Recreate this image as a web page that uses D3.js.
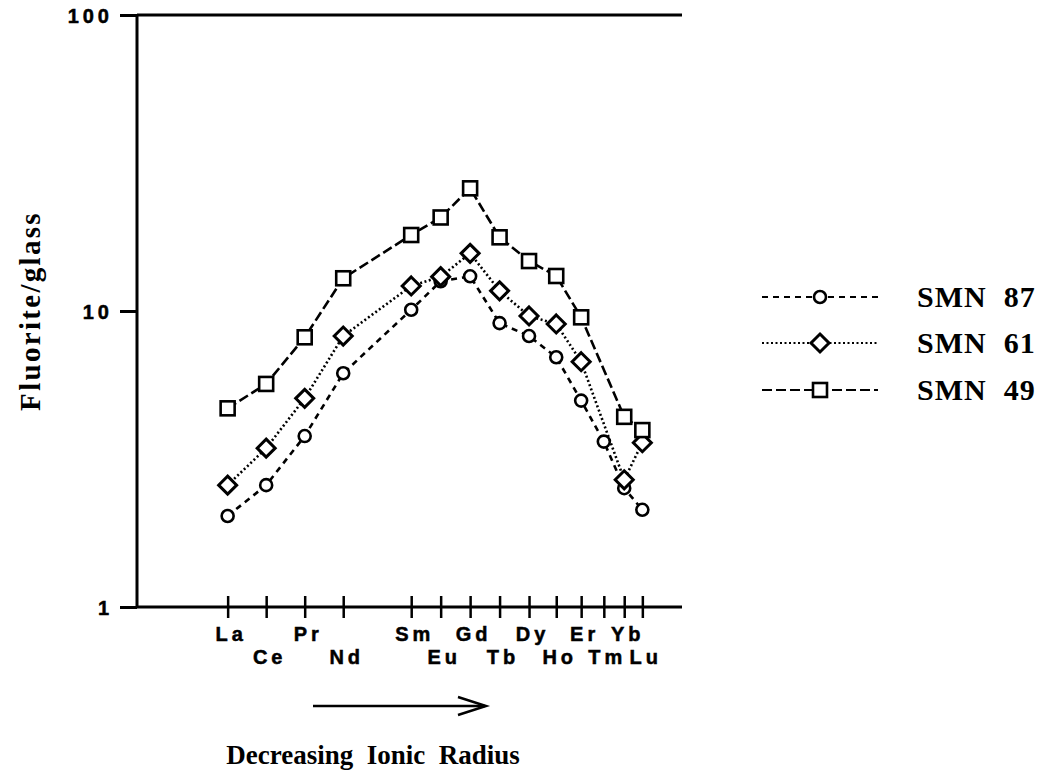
<!DOCTYPE html>
<html>
<head>
<meta charset="utf-8">
<script src="https://cdn.jsdelivr.net/npm/d3@7"></script>
<style>
  html, body { margin: 0; padding: 0; background: #fff; }
  svg { display: block; }
</style>
</head>
<body>
<svg id="chart" width="1048" height="780"></svg>
<script>
// ---- data ----
const elements = ["La","Ce","Pr","Nd","Sm","Eu","Gd","Tb","Dy","Ho","Er","Tm","Yb","Lu"];
// ionic radius (Å) used for x positions
const ionicRadius = [1.160,1.143,1.126,1.109,1.079,1.066,1.053,1.040,1.027,1.015,1.004,0.994,0.985,0.977];
const labelRow = [0,1,0,1,0,1,0,1,0,1,0,1,0,1];
const smn87 = [2.03,2.58,3.78,6.16,10.1,12.6,13.1,9.1,8.23,6.98,4.98,3.62,2.52,2.13];
const smn61 = [2.58,3.44,5.07,8.23,12.15,13.06,15.66,11.7,9.62,9.04,6.74,null,2.69,3.59];
const smn49 = [4.69,5.67,8.15,12.9,18.06,20.7,25.97,17.74,14.75,13.13,9.52,null,4.39,3.96];
const seriesNames = ["SMN  87","SMN  61","SMN  49"];
const yTicks = [1,10,100];
const xTitle = "Decreasing  Ionic  Radius";
const yTitle = "Fluorite/glass";

(function () {
// ---- layout ----
const svg = d3.select("#chart");
const pLeft = 137, pRight = 682, pTop = 15, pBottom = 607;

const x = d3.scaleLinear().domain([1.200, 0.9595]).range([pLeft, pRight]);
const y = d3.scaleLog().domain([1, 100]).range([pBottom, pTop]);

const sansFont = "'Liberation Sans', Arial, sans-serif";
const serifFont = "'Liberation Serif', 'Times New Roman', serif";

// frame: left, top, bottom
const frame = svg.append("g").attr("stroke", "#000").attr("stroke-width", 3).attr("fill", "none");
frame.append("line").attr("x1", pLeft).attr("x2", pLeft).attr("y1", pTop).attr("y2", pBottom);
frame.append("line").attr("x1", pLeft).attr("x2", pRight).attr("y1", pTop).attr("y2", pTop);
frame.append("line").attr("x1", pLeft).attr("x2", pRight).attr("y1", pBottom).attr("y2", pBottom);

// y axis
const yAxis = d3.axisLeft(y).tickValues(yTicks).tickFormat(d3.format("d")).tickSize(17).tickPadding(7);
const gy = svg.append("g").attr("transform", `translate(${pLeft},0)`).call(yAxis);
gy.select(".domain").remove();
gy.selectAll(".tick line").attr("stroke", "#000").attr("stroke-width", 3);
gy.selectAll(".tick text")
  .attr("font-family", sansFont).attr("font-weight", "bold").attr("font-size", 20)
  .attr("letter-spacing", 4).attr("fill", "#000")
  .attr("stroke", "#000").attr("stroke-width", 0.5)
  .attr("dy", "0.36em");

// x axis with crossing ticks
const xAxis = d3.axisBottom(x).tickValues(ionicRadius).tickFormat((d, i) => elements[i]).tickSize(11).tickPadding(0);
const gx = svg.append("g").attr("transform", `translate(0,${pBottom})`).call(xAxis);
gx.select(".domain").remove();
gx.selectAll(".tick line").attr("y1", -11).attr("y2", 11).attr("stroke", "#000").attr("stroke-width", 2.5);
gx.selectAll(".tick text")
  .attr("font-family", sansFont).attr("font-weight", "bold").attr("font-size", 20)
  .attr("letter-spacing", 4).attr("fill", "#000")
  .attr("stroke", "#000").attr("stroke-width", 0.5)
  .attr("dx", 3)
  .attr("dy", null)
  .attr("y", (d, i) => labelRow[i] === 0 ? 34 : 57);

// series
const series = [
  { name: seriesNames[0], values: smn87, dash: "6,5", marker: "circle" },
  { name: seriesNames[1], values: smn61, dash: "2,2.5", marker: "diamond" },
  { name: seriesNames[2], values: smn49, dash: "10,4", marker: "square" }
];

const line = d3.line().x(d => x(d.r)).y(d => y(d.v));

function drawMarker(g, type, cx, cy) {
  if (type === "circle") {
    g.append("circle").attr("cx", cx).attr("cy", cy).attr("r", 6)
      .attr("fill", "#fff").attr("stroke", "#000").attr("stroke-width", 2.6);
  } else if (type === "diamond") {
    const s = 9;
    g.append("path").attr("d", `M${cx},${cy - s}L${cx + s},${cy}L${cx},${cy + s}L${cx - s},${cy}Z`)
      .attr("fill", "#fff").attr("stroke", "#000").attr("stroke-width", 3);
  } else {
    const s = 7;
    g.append("rect").attr("x", cx - s).attr("y", cy - s).attr("width", 2 * s).attr("height", 2 * s)
      .attr("fill", "#fff").attr("stroke", "#000").attr("stroke-width", 2.6);
  }
}

series.forEach(s => {
  const pts = s.values.map((v, i) => ({ r: ionicRadius[i], v })).filter(d => d.v != null);
  const g = svg.append("g");
  g.append("path").datum(pts).attr("d", line)
    .attr("fill", "none").attr("stroke", "#000").attr("stroke-width", 2.6)
    .attr("stroke-dasharray", s.dash);
  pts.forEach(p => drawMarker(g, s.marker, x(p.r), y(p.v)));
});

// legend
const legY = [297, 343, 390];
series.forEach((s, i) => {
  const g = svg.append("g");
  g.append("line").attr("x1", 762).attr("x2", 878).attr("y1", legY[i]).attr("y2", legY[i])
    .attr("stroke", "#000").attr("stroke-width", 2.2).attr("stroke-dasharray", s.dash);
  drawMarker(g, s.marker, 820, legY[i]);
  g.append("text").attr("x", 917).attr("y", legY[i] + 10)
    .attr("font-family", serifFont).attr("font-weight", "bold").attr("font-size", 30)
    .attr("letter-spacing", 1)
    .attr("fill", "#000").style("white-space", "pre").text(s.name);
});

// y title
svg.append("text")
  .attr("transform", "translate(40,311) rotate(-90)")
  .attr("text-anchor", "middle")
  .attr("font-family", serifFont).attr("font-weight", "bold").attr("font-size", 29)
  .attr("letter-spacing", 2.3)
  .attr("fill", "#000").text(yTitle);

// arrow
const arrow = svg.append("g").attr("stroke", "#000").attr("stroke-width", 2.5).attr("fill", "none");
arrow.append("line").attr("x1", 313).attr("x2", 485).attr("y1", 706).attr("y2", 706);
arrow.append("path").attr("d", "M458,697L486,706L458,715");

// x title
svg.append("text")
  .attr("x", 373).attr("y", 764).attr("text-anchor", "middle")
  .attr("font-family", serifFont).attr("font-weight", "bold").attr("font-size", 27)
  .style("white-space", "pre")
  .attr("fill", "#000").text(xTitle);
})();
</script>
</body>
</html>
